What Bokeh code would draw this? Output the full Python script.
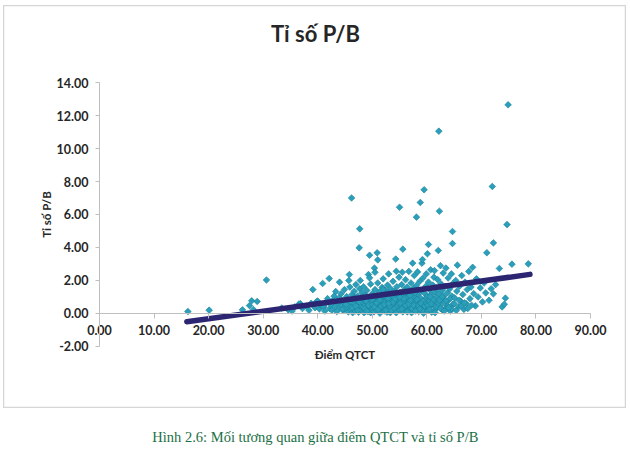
from bokeh.plotting import figure
from bokeh.layouts import column
from bokeh.models import (Range1d, FixedTicker, NumeralTickFormatter, Label,
                          ColumnDataSource, LinearAxis)
from bokeh.embed import file_html
from bokeh.resources import INLINE
import math

# ---------------- data ----------------
qtct_a = [16.2, 20.1, 26.2, 27.5, 27.9, 28.2, 28.9, 30.6, 33.4, 34.6,
          35.3, 35.8, 36.5, 36.8, 37.2, 37.9, 38.4, 38.8, 39.1, 39.5, 39.8]
pb_a = [0.12, 0.20, 0.22, 0.48, 0.77, 0.24, 0.73, 2.03, 0.33, 0.22,
        0.15, 0.40, 0.55, 0.60, 0.30, 0.45, 0.20, 0.62, 1.45, 0.35, 0.72]

qtct_b = [40.0, 40.3, 40.6, 40.9, 41.1, 41.3, 41.5, 41.8, 42.1, 42.2,
          42.4, 42.6, 42.8, 43.0, 43.2, 43.3, 43.5, 43.7, 43.9, 44.0,
          44.1, 44.3, 44.4, 44.6, 44.7, 44.9, 45.0, 45.1, 45.3, 45.4,
          45.6, 45.7, 45.8, 45.9, 45.9, 44.5, 45.2, 45.8]
pb_b = [0.75, 0.28, 0.50, 1.82, 0.40, 0.15, 0.62, 0.90, 2.12, 0.30,
        0.55, 0.20, 0.80, 1.05, 0.42, 1.33, 0.12, 0.65, 0.95, 1.90,
        0.35, 1.20, 0.50, 0.78, 0.18, 1.45, 0.60, 0.30, 1.02, 0.85,
        0.10, 2.00, 2.36, 0.45, 1.60, 0.25, 0.55, 0.80]

qtct_c = [46.0, 46.1, 46.2, 46.3, 46.4, 46.5, 46.6, 46.7, 46.8, 46.9,
          47.0, 47.1, 47.2, 47.3, 47.4, 47.5, 47.6, 47.7, 47.7, 47.8,
          47.8, 47.9, 48.0, 48.1, 48.2, 48.3, 48.4, 48.5, 48.6, 48.7,
          48.8, 48.9, 49.0, 49.1, 49.2, 49.3, 49.4, 49.5, 49.5, 49.6,
          49.7, 49.8, 49.9,
          46.3, 46.8, 47.3, 47.6, 48.2, 48.6, 48.9, 49.3, 49.7, 47.0, 49.0]
pb_c = [0.72, 0.25, 7.00, 1.15, 0.05, 0.90, 0.40, 1.35, 0.58, 0.15,
        1.75, 0.82, 0.32, 1.05, 0.62, 0.08, 3.98, 5.13, 1.50, 2.00,
        0.45, 0.95, 0.20, 1.25, 0.70, 0.38, 1.62, 0.05, 0.88, 0.52,
        1.10, 0.28, 1.40, 0.65, 0.12, 2.36, 0.98, 3.53, 2.16, 0.42,
        1.78, 0.75, 0.22,
        0.35, 0.95, 0.20, 0.70, 1.00, 0.30, 0.75, 0.50, 0.05, 0.45, 0.15]

qtct_d = [50.0, 50.1, 50.2, 50.3, 50.4, 50.5, 50.5, 50.6, 50.7, 50.8,
          50.9, 50.9, 51.0, 51.0, 51.1, 51.2, 51.3, 51.4, 51.5, 51.6,
          51.7, 51.8, 51.9, 52.0, 52.0, 52.1, 52.2, 52.3, 52.4, 52.5,
          52.6, 52.7, 52.8, 52.9, 53.0, 53.0, 53.1, 53.2, 53.3, 53.4,
          53.5, 53.6, 53.7, 53.8, 53.9, 54.0, 54.1, 54.2, 54.3, 54.4,
          54.4, 54.5, 54.6, 54.7, 54.8, 54.9,
          50.0, 50.4, 50.8, 51.1, 51.6, 51.9, 52.2, 52.5, 52.9, 53.2,
          53.5, 53.8, 54.1, 54.4, 54.7, 51.4, 53.0, 54.2, 52.0]
pb_d = [1.20, 0.55, 0.92, 0.10, 2.75, 2.50, 1.45, 0.35, 0.68, 1.05,
        3.68, 0.18, 3.25, 1.85, 0.80, 0.45, 1.30, 0.02, 0.62, 1.00,
        0.28, 1.58, 0.85, 0.40, 2.10, 1.18, 0.15, 0.72, 1.40, 0.50,
        0.95, 0.08, 1.72, 0.60, 1.25, 2.40, 0.32, 0.88, 0.05, 1.50,
        0.70, 1.10, 0.22, 1.95, 0.48, 0.95, 1.35, 0.12, 3.30, 2.56,
        0.78, 1.62, 0.38, 1.05, 0.58, 2.20,
        0.85, 0.40, 0.65, 0.25, 0.45, 1.10, 0.55, 0.20, 0.90, 0.40,
        0.18, 0.68, 0.30, 0.05, 0.45, 0.82, 0.60, 0.88, 1.45]

qtct_e = [55.0, 55.0, 55.1, 55.2, 55.3, 55.4, 55.5, 55.6, 55.6, 55.7,
          55.8, 55.9, 56.0, 56.1, 56.2, 56.3, 56.4, 56.5, 56.6, 56.7,
          56.8, 56.9, 57.0, 57.1, 57.2, 57.3, 57.4, 57.5, 57.6, 57.7,
          57.8, 57.9, 58.0, 58.1, 58.1, 58.2, 58.3, 58.4, 58.5, 58.6,
          58.7, 58.8, 58.8, 58.9, 59.0, 59.1, 59.2, 59.2, 59.3, 59.4,
          59.5, 59.5, 59.6, 59.7, 59.8, 59.9,
          55.1, 55.4, 55.8, 56.1, 56.4, 56.7, 57.0, 57.3, 57.6, 57.9,
          58.2, 58.5, 58.9, 59.2, 59.6, 59.9, 55.0, 56.9, 58.7, 57.8]
pb_e = [6.44, 0.20, 1.28, 0.85, 0.45, 1.75, 2.50, 3.90, 0.10, 1.12,
        0.65, 1.45, 0.30, 2.05, 0.92, 0.52, 1.60, 0.15, 1.20, 2.55,
        0.75, 0.40, 1.38, 1.85, 0.05, 0.98, 3.05, 0.60, 1.55, 2.30,
        0.25, 1.05, 0.80, 5.84, 1.70, 0.42, 2.52, 1.15, 0.12, 0.70,
        1.95, 6.73, 0.95, 0.35, 1.40, 3.05, 3.27, 0.55, 2.15, 0.02,
        7.50, 1.25, 0.85, 0.30, 1.65, 2.40,
        0.62, 0.28, 0.90, 0.48, 0.10, 0.58, 0.80, 0.30, 0.50, 0.15,
        0.85, 0.48, 0.62, 0.18, 0.45, 0.95, 1.00, 1.10, 0.28, 1.25]

qtct_f = [60.0, 60.1, 60.1, 60.2, 60.3, 60.3, 60.4, 60.5, 60.6, 60.7,
          60.8, 60.9, 61.0, 61.1, 61.2, 61.3, 61.4, 61.5, 61.6, 61.7,
          61.8, 61.9, 62.0, 62.1, 62.2, 62.2, 62.3, 62.4, 62.5, 62.6,
          62.7, 62.8, 62.9, 63.0, 63.1, 63.2, 63.4, 63.5, 63.6, 63.8,
          63.9, 64.0, 64.2, 64.3, 64.5, 64.6, 64.7, 64.7, 64.8, 64.9,
          60.2, 60.5, 60.8, 61.2, 61.5, 61.8, 62.1, 62.5, 62.8, 63.2,
          63.5, 63.9, 64.3, 64.6, 60.6, 62.3, 64.0]
pb_f = [0.62, 3.62, 1.05, 0.18, 4.18, 1.90, 0.75, 1.45, 0.40, 2.65,
        1.15, 0.08, 0.90, 1.72, 0.55, 2.20, 2.60, 1.30, 0.25, 0.98,
        1.55, 0.68, 2.05, 3.82, 11.05, 1.20, 6.20, 0.45, 2.90, 1.80,
        0.85, 1.40, 0.20, 2.45, 1.05, 0.62, 1.65, 2.75, 0.35, 1.25,
        2.15, 0.80, 1.50, 0.15, 2.40, 1.05, 4.24, 4.97, 0.55, 1.85,
        0.50, 0.25, 0.60, 0.85, 0.05, 0.40, 0.62, 0.30, 1.00, 0.15,
        0.78, 0.45, 0.90, 0.28, 1.02, 0.80, 0.35]

qtct_g = [65.1, 65.3, 65.5, 65.6, 65.8, 66.0, 66.2, 66.4, 66.6, 66.8,
          67.0, 67.2, 67.4, 67.7, 67.9, 68.1, 68.4, 68.6, 68.9, 69.1,
          69.4, 69.8, 70.2, 70.5, 70.8, 71.0, 71.4, 71.8, 72.0, 72.2,
          72.2, 72.6, 73.3, 73.8, 74.2, 74.4, 74.7, 74.9, 75.6, 78.6,
          65.0, 65.4, 65.9, 66.3, 66.9, 67.5, 68.2]
pb_g = [0.95, 2.00, 1.35, 2.93, 0.40, 1.65, 0.75, 2.30, 1.15, 0.25,
        1.90, 0.60, 1.45, 2.55, 0.90, 1.60, 2.80, 1.20, 0.46, 2.10,
        1.00, 1.55, 0.70, 1.85, 1.25, 3.68, 0.80, 1.50, 7.70, 4.28,
        1.19, 1.75, 2.73, 0.40, 0.56, 0.93, 5.39, 12.65, 2.99, 3.01,
        0.60, 0.18, 0.80, 0.45, 0.65, 0.30, 0.50]

# linear trend line (end points)
trend_x = [16.0, 78.9]
trend_y = [-0.50, 2.37]

x_ticks = [0, 10, 20, 30, 40, 50, 60, 70, 80, 90]
y_ticks = [-2, 0, 2, 4, 6, 8, 10, 12, 14]

chart_title = "Tỉ số P/B"
x_title = "Điểm QTCT"
y_title = "Tỉ số P/B"
caption = "Hình 2.6: Mối tương quan giữa điểm QTCT và tỉ số P/B"

qtct = qtct_a + qtct_b + qtct_c + qtct_d + qtct_e + qtct_f + qtct_g
pb = pb_a + pb_b + pb_c + pb_d + pb_e + pb_f + pb_g
assert len(qtct) == len(pb)

# ---------------- figure ----------------
# The frame fills the whole chart box; axes are pinned at 0 and bounded.
FONT = "Lato"
p = figure(width=623, height=403,
           x_range=Range1d(-17.60, 96.60), y_range=Range1d(-5.758, 18.667),
           x_axis_type=None, y_axis_type=None,
           output_backend="svg", toolbar_location=None, min_border=0)
p.margin = (5, 0, 0, 3)
p.outline_line_color = "#d6d6d6"
p.outline_line_width = 1.5
p.background_fill_color = "white"
p.border_fill_color = "white"

src = ColumnDataSource(dict(x=qtct, y=pb))
p.scatter("x", "y", source=src, marker="square", angle=math.pi / 4, size=4.7,
          fill_color="#2a9fbb", line_color="#1a8097", line_width=0.6)
p.line(trend_x, trend_y, line_color="#2b2572", line_width=5.5, line_cap="round")

xaxis = LinearAxis(fixed_location=0, bounds=(0, 90))
yaxis = LinearAxis(fixed_location=0, bounds=(-2, 14))
p.add_layout(xaxis, "below")
p.add_layout(yaxis, "left")

for ax in (xaxis, yaxis):
    ax.axis_line_color = "#bfbfbf"
    ax.major_tick_line_color = "#bfbfbf"
    ax.minor_tick_line_color = None
    ax.major_tick_in = 0
    ax.major_label_text_font = FONT
    ax.major_label_text_font_style = "bold"
    ax.major_label_text_font_size = "12.5px"
    ax.major_label_text_color = "#262626"
    ax.axis_label_text_font = FONT
    ax.axis_label_text_font_style = "bold"
    ax.axis_label_text_font_size = "11.5px"
    ax.axis_label_text_color = "#262626"
    ax.formatter = NumeralTickFormatter(format="0.00")

xaxis.ticker = FixedTicker(ticks=x_ticks)
yaxis.ticker = FixedTicker(ticks=y_ticks)
xaxis.major_tick_out = 5
xaxis.major_label_standoff = 7
xaxis.axis_label = x_title
xaxis.axis_label_standoff = 9
yaxis.major_tick_out = 4
yaxis.major_label_standoff = 7
yaxis.axis_label = y_title
yaxis.axis_label_standoff = 1

p.add_layout(Label(x=39.6, y=16.97, text=chart_title, text_align="center",
                   text_baseline="middle", text_font=FONT, text_font_style="bold",
                   text_font_size="22px", text_color="#262626"))

# caption below the chart box
p2 = figure(width=630, height=45, x_range=Range1d(0, 1), y_range=Range1d(0, 1),
            x_axis_type=None, y_axis_type=None, min_border=0,
            output_backend="svg", toolbar_location=None)
p2.outline_line_color = None
p2.add_layout(Label(x=0.5, y=0.356, text=caption, text_align="center",
                    text_baseline="middle", text_font="Liberation Serif",
                    text_font_size="14.5px", text_color="#1b7045"))

layout = column(p, p2, spacing=0)
open("out.html", "w").write(file_html(layout, INLINE))
